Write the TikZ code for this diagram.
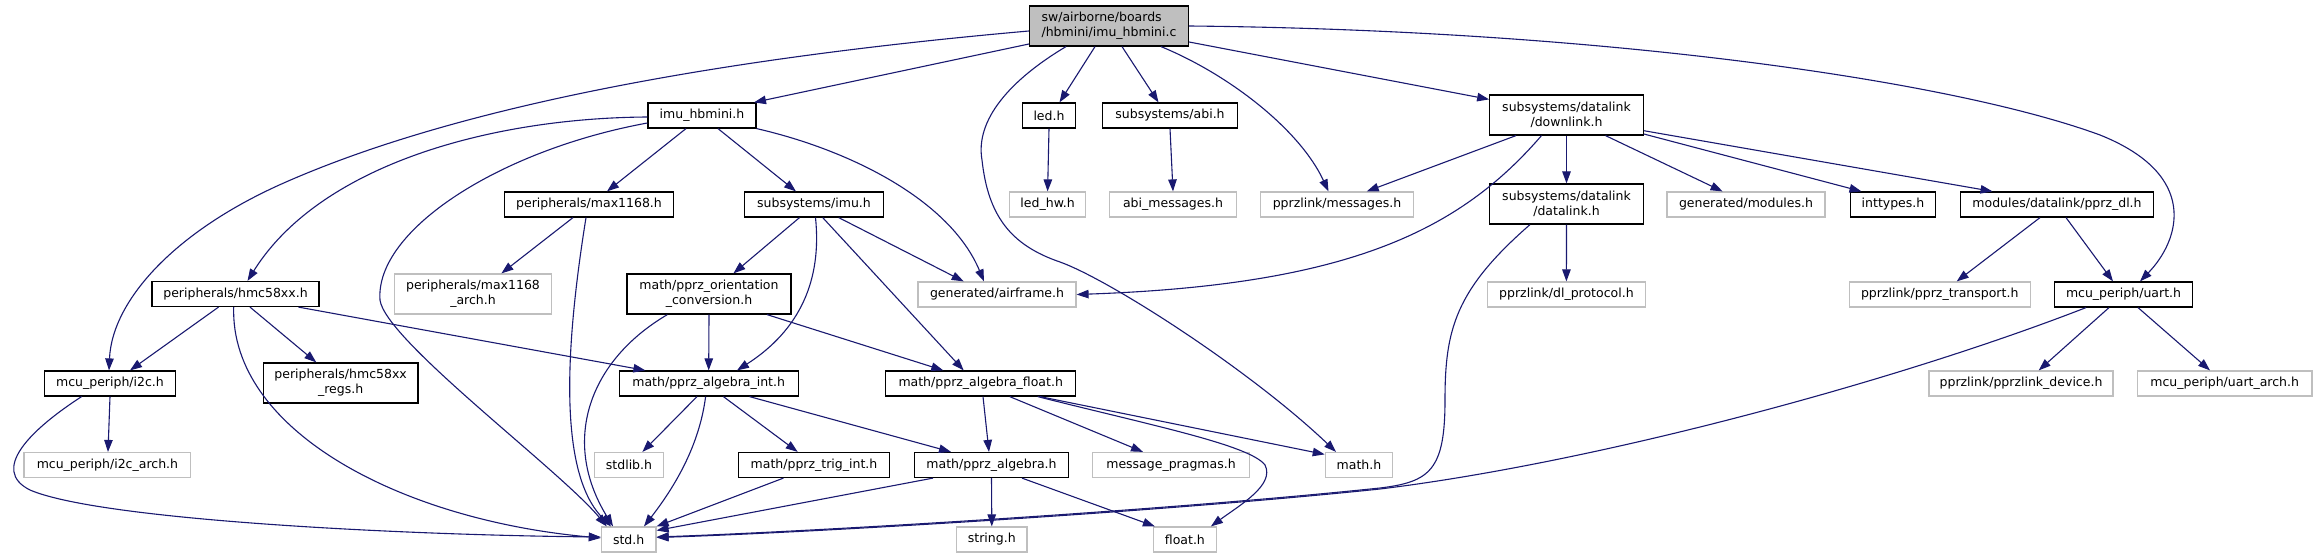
\documentclass[tikz,border=0pt]{standalone}
\usepackage{fontspec}
\setmainfont{DejaVu Sans}
\usetikzlibrary{arrows.meta}
\definecolor{edgec}{HTML}{191970}
\definecolor{greyb}{HTML}{BFBFBF}
\begin{document}
\begin{tikzpicture}[x=1pt,y=-1pt,
 nd/.style={draw=black, line width=1.2pt, rectangle, inner sep=0pt, align=center, font=\fontsize{12.5}{15}\selectfont, minimum height=25pt},
 gnd/.style={nd, draw=greyb},
 two/.style={minimum height=40pt},
 e/.style={draw=edgec, line width=1.1pt, -{Triangle[length=12pt,width=8.5pt]}}]
\useasboundingbox[fill=white] (0,0) rectangle (2318,559);

% nodes
\node[nd, two, fill=greyb, align=left, minimum width=159pt] (root) at (1109,26) {sw/airborne/boards\\/hbmini/imu\_hbmini.c};
\node[nd, minimum width=108pt] (imuhb) at (702,115.5) {imu\_hbmini.h};
\node[nd, minimum width=53pt] (led) at (1049,115.5) {led.h};
\node[nd, minimum width=135pt] (abi) at (1170,115.5) {subsystems/abi.h};
\node[nd, two, minimum width=153.5pt] (downlink) at (1566.5,115) {subsystems/datalink\\/downlink.h};
\node[nd, minimum width=169pt] (max) at (589,204.5) {peripherals/max1168.h};
\node[nd, minimum width=139pt] (imu) at (814,204.5) {subsystems/imu.h};
\node[gnd, minimum width=76pt] (ledhw) at (1047.6,204.5) {led\_hw.h};
\node[gnd, minimum width=126.5pt] (abim) at (1173,204.5) {abi\_messages.h};
\node[gnd, minimum width=153.6pt] (msgs) at (1337,204.5) {pprzlink/messages.h};
\node[nd, two, minimum width=153.5pt] (datalink) at (1566.5,204) {subsystems/datalink\\/datalink.h};
\node[gnd, minimum width=158pt] (modules) at (1746,204.5) {generated/modules.h};
\node[nd, minimum width=85pt] (inttypes) at (1893,204.5) {inttypes.h};
\node[nd, minimum width=193pt] (pprzdl) at (2057,204.5) {modules/datalink/pprz\_dl.h};
\node[nd, minimum width=167pt] (hmc) at (235.5,294) {peripherals/hmc58xx.h};
\node[gnd, two, minimum width=157.5pt] (maxarch) at (473,294) {peripherals/max1168\\\_arch.h};
\node[nd, two, minimum width=164pt] (orient) at (709,294) {math/pprz\_orientation\\\_conversion.h};
\node[gnd, minimum width=158pt] (airframe) at (997,294.5) {generated/airframe.h};
\node[gnd, minimum width=157.6pt] (dlproto) at (1566.4,294.5) {pprzlink/dl\_protocol.h};
\node[gnd, minimum width=181pt] (transport) at (1939.7,294.5) {pprzlink/pprz\_transport.h};
\node[nd, minimum width=138pt] (uart) at (2123.5,294.5) {mcu\_periph/uart.h};
\node[nd, minimum width=130.6pt] (i2c) at (110,383.5) {mcu\_periph/i2c.h};
\node[nd, two, minimum width=154.6pt] (regs) at (340.6,383) {peripherals/hmc58xx\\\_regs.h};
\node[nd, minimum width=179pt] (algint) at (708.7,383.5) {math/pprz\_algebra\_int.h};
\node[nd, minimum width=190pt] (algfloat) at (980.7,383.5) {math/pprz\_algebra\_float.h};
\node[gnd, minimum width=184pt] (device) at (2021,383.5) {pprzlink/pprzlink\_device.h};
\node[gnd, minimum width=174.6pt] (uartarch) at (2224.7,383.5) {mcu\_periph/uart\_arch.h};
\node[gnd, minimum width=166.8pt] (i2carch) at (107.4,465) {mcu\_periph/i2c\_arch.h};
\node[gnd, minimum width=68.6pt] (stdlib) at (629,465) {stdlib.h};
\node[nd, minimum width=151pt] (trig) at (814,465) {math/pprz\_trig\_int.h};
\node[nd, minimum width=154.6pt] (alg) at (991.5,465) {math/pprz\_algebra.h};
\node[gnd, minimum width=156.6pt] (pragmas) at (1171,465) {message\_pragmas.h};
\node[gnd, minimum width=67.4pt] (math) at (1359,465) {math.h};
\node[gnd, minimum width=54.6pt] (std) at (628.7,539.5) {std.h};
\node[gnd, minimum width=70.4pt] (string) at (991.8,539.5) {string.h};
\node[gnd, minimum width=62.7pt] (floath) at (1184.9,539.5) {float.h};

% edges from root
\draw[e] ([yshift=-18pt]root.west) -- ([xshift=52pt]imuhb.north);
\draw[e] ([yshift=-5pt]root.west) .. controls (700,60) and (450,110) .. (286,182) .. controls (176,230) and (112,300) .. ([xshift=-1pt]i2c.north);
\draw[e] ([xshift=-14pt]root.south) -- ([xshift=10.5pt]led.north);
\draw[e] ([xshift=13pt]root.south) -- ([xshift=-11.5pt]abi.north);
\draw[e] ([xshift=52pt]root.south) .. controls (1230,75) and (1300,130) .. ([xshift=-8.5pt]msgs.north);
\draw[e] ([yshift=-16pt]root.east) -- ([yshift=-5pt]downlink.north west);
\draw[e] ([xshift=-43pt]root.south) .. controls (1010,80) and (975,120) .. (982,160) .. controls (988,215) and (1010,245) .. (1060,262) .. controls (1110,280) and (1250,370) .. ([xshift=-23pt]math.north);
\draw[e] (root.east) .. controls (1600,30) and (1950,80) .. (2100,135) .. controls (2200,175) and (2180,240) .. ([xshift=16.5pt]uart.north);

% imu_hbmini.h
\draw[e] ([xshift=-16pt]imuhb.south) -- ([xshift=18pt]max.north);
\draw[e] ([xshift=16pt]imuhb.south) -- ([xshift=-18pt]imu.north);
\draw[e] (imuhb.south east) .. controls (850,150) and (950,200) .. ([xshift=-13pt]airframe.north);
\draw[e] ([yshift=-1.5pt]imuhb.west) .. controls (490,118) and (320,165) .. ([xshift=12pt]hmc.north);
\draw[e] ([yshift=-7.5pt]imuhb.west) .. controls (500,150) and (375,230) .. (380,300) .. controls (385,340) and (560,470) .. ([xshift=-22pt]std.north);

% led, abi
\draw[e] (led.south) -- (ledhw.north);
\draw[e] (abi.south) -- (abim.north);

% downlink
\draw[e] ([xshift=-50.5pt]downlink.south) -- ([xshift=29.7pt]msgs.north);
\draw[e] ([xshift=-25pt]downlink.south) .. controls (1460,230) and (1350,285) .. (airframe.east);
\draw[e] (downlink.south) -- (datalink.north);
\draw[e] ([xshift=39pt]downlink.south) -- ([xshift=-23.4pt]modules.north);
\draw[e] ([yshift=-19pt]downlink.east) -- ([xshift=-31.5pt]inttypes.north);
\draw[e] ([yshift=-15.7pt]downlink.east) -- ([xshift=-64.5pt]pprzdl.north);

% datalink
\draw[e] (datalink.south) -- (dlproto.north);
\draw[e] ([xshift=-36.5pt]datalink.south) .. controls (1455,290) and (1445,330) .. (1445,400) .. controls (1445,470) and (1430,482) .. (1380,488) .. controls (1150,512) and (800,532) .. ([yshift=2.5pt]std.east);

% pprz_dl, uart
\draw[e] ([xshift=-17pt]pprzdl.south) -- ([xshift=17pt]transport.north);
\draw[e] ([xshift=9pt]pprzdl.south) -- ([xshift=-10.5pt]uart.north);
\draw[e] ([xshift=-14.5pt]uart.south) -- ([xshift=17.7pt]device.north);
\draw[e] ([xshift=14.5pt]uart.south) -- ([xshift=-14.7pt]uartarch.north);
\draw[e] ([xshift=-37.5pt]uart.south) .. controls (1900,380) and (1600,462) .. (1380,489) .. controls (1150,513) and (800,533) .. ([yshift=2pt]std.east);

% max1168
\draw[e] ([xshift=-16pt]max.south) -- ([xshift=28.4pt]maxarch.north);
\draw[e] ([xshift=-3pt]max.south) .. controls (568,330) and (555,470) .. ([xshift=-17.7pt]std.north);

% imu.h
\draw[e] ([xshift=-14.5pt]imu.south) -- ([xshift=24.4pt]orient.north);
\draw[e] ([xshift=24.7pt]imu.south) -- ([xshift=-33.3pt]airframe.north);
\draw[e] ([xshift=1.5pt]imu.south) .. controls (822,280) and (800,330) .. ([xshift=28.3pt]algint.north);
\draw[e] ([xshift=8.7pt]imu.south) -- ([xshift=-17pt]algfloat.north);

% hmc58xx
\draw[e] ([xshift=-17pt]hmc.south) -- ([xshift=20pt]i2c.north);
\draw[e] ([xshift=14.5pt]hmc.south) -- ([xshift=-24.3pt]regs.north);
\draw[e] ([xshift=63pt]hmc.south) -- ([xshift=-63.3pt]algint.north);
\draw[e] ([xshift=-1.8pt]hmc.south) .. controls (230,430) and (400,520) .. ([yshift=1.5pt]std.west);

% orientation
\draw[e] (orient.south) -- (algint.north);
\draw[e] ([xshift=58pt]orient.south) -- ([xshift=-37.4pt]algfloat.north);
\draw[e] ([xshift=-41.6pt]orient.south) .. controls (590,360) and (560,440) .. ([xshift=-15.7pt]std.north);

% i2c
\draw[e] (i2c.south) -- ([xshift=0.6pt]i2carch.north);
\draw[e] ([xshift=-28.4pt]i2c.south) .. controls (30,430) and (-10,470) .. (30,490) .. controls (100,520) and (400,535) .. ([yshift=2.5pt]std.west);

% algebra_int
\draw[e] ([xshift=-11.7pt]algint.south) -- ([xshift=13.4pt]stdlib.north);
\draw[e] ([xshift=-3.1pt]algint.south) .. controls (700,440) and (680,480) .. ([xshift=15.3pt]std.north);
\draw[e] ([xshift=14.7pt]algint.south) -- ([xshift=-16.3pt]trig.north);
\draw[e] ([xshift=40.8pt]algint.south) -- ([xshift=-40.5pt]alg.north);

% trig
\draw[e] ([xshift=-30.6pt]trig.south) -- (std.north east);

% algebra_float
\draw[e] ([xshift=2.3pt]algfloat.south) -- ([xshift=-2.5pt]alg.north);
\draw[e] ([xshift=29pt]algfloat.south) -- ([xshift=-28pt]pragmas.north);
\draw[e] ([xshift=59.3pt]algfloat.south) -- ([yshift=-2.5pt]math.north west);
\draw[e] ([xshift=57pt]algfloat.south) .. controls (1150,425) and (1250,445) .. (1265,465) .. controls (1275,485) and (1240,505) .. ([xshift=26pt]floath.north);

% algebra
\draw[e] (alg.south) -- (string.north);
\draw[e] ([xshift=30.5pt]alg.south) -- ([xshift=-30pt]floath.north);
\draw[e] ([xshift=-58.5pt]alg.south) -- ([yshift=9pt]std.east);
\end{tikzpicture}
\end{document}
